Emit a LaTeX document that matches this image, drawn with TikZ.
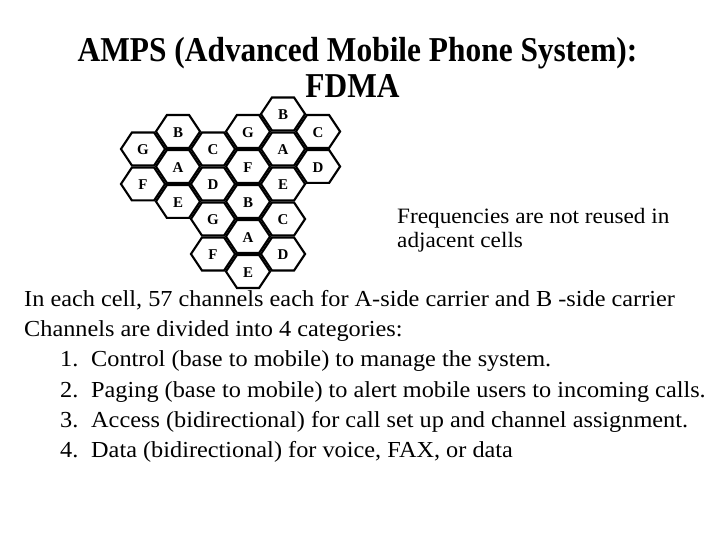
\documentclass[tikz,border=0pt]{standalone}
\usepackage{fontspec}
\setmainfont{Liberation Serif}
\newfontfamily\titlefont[FakeStretch=0.9]{Liberation Serif}
\newfontfamily\bodyfont[FakeStretch=1.06]{Liberation Serif}
\begin{document}
\begin{tikzpicture}[x=1bp,y=-1bp,
  hexlabel/.style={font=\bfseries\fontsize{15}{15}\selectfont, inner sep=0pt},
  titletext/.style={font=\titlefont\bfseries\fontsize{35}{38}\selectfont, inner sep=0pt},
  bodytext/.style={font=\bodyfont\fontsize{23}{27}\selectfont, inner sep=0pt, anchor=base west},
  notetext/.style={font=\bodyfont\fontsize{22}{25}\selectfont, inner sep=0pt, anchor=base west},
  hexline/.style={line width=4.2bp, line join=miter}]
\useasboundingbox (0,0) rectangle (720,540);
\fill[white] (0,0) rectangle (720,540);
% title
\node[titletext] (title1) at (357.5,53) {AMPS (Advanced Mobile Phone System):};
\node[titletext] (title2) at (352.5,86) {FDMA};
% hexagonal cells
\foreach \c/\k/\t in {1/3/A,1/1/B,2/2/C,2/4/D,1/5/E,0/4/F,0/2/G,
                       4/2/A,4/0/B,5/1/C,5/3/D,4/4/E,3/3/F,3/1/G,
                       3/7/A,3/5/B,4/6/C,4/8/D,3/9/E,2/8/F,2/6/G}{
  \pgfmathsetmacro\cx{143+35*\c}
  \pgfmathsetmacro\cy{114+17.5*\k}
  \begin{scope}
    \clip (\cx-23.33,\cy) -- (\cx-11.67,\cy-17.5) -- (\cx+11.67,\cy-17.5) -- (\cx+23.33,\cy) -- (\cx+11.67,\cy+17.5) -- (\cx-11.67,\cy+17.5) -- cycle;
    \draw[hexline] (\cx-23.33,\cy) -- (\cx-11.67,\cy-17.5) -- (\cx+11.67,\cy-17.5) -- (\cx+23.33,\cy) -- (\cx+11.67,\cy+17.5) -- (\cx-11.67,\cy+17.5) -- cycle;
  \end{scope}
  \node[hexlabel] (h\c-\k) at (\cx,\cy+1) {\t};
}
% note
\node[notetext] (note1) at (397,224) {Frequencies are not reused in};
\node[notetext] (note2) at (397,248) {adjacent cells};
% body
\node[bodytext] (l1) at (24,306) {In each cell, 57 channels each for A-side carrier and B -side carrier};
\node[bodytext] (l2) at (24,336) {Channels are divided into 4 categories:};
\node[bodytext] (n1) at (60,366) {1.};
\node[bodytext] (t1) at (91,366) {Control (base to mobile) to manage the system.};
\node[bodytext] (n2) at (60,397) {2.};
\node[bodytext] (t2) at (91,397) {Paging (base to mobile) to alert mobile users to incoming calls.};
\node[bodytext] (n3) at (60,427) {3.};
\node[bodytext] (t3) at (91,427) {Access (bidirectional) for call set up and channel assignment.};
\node[bodytext] (n4) at (60,457) {4.};
\node[bodytext] (t4) at (91,457) {Data (bidirectional) for voice, FAX, or data};
\end{tikzpicture}
\end{document}
